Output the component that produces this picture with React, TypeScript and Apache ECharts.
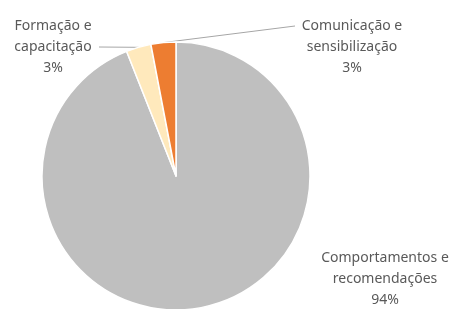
import React, { useEffect, useRef } from "react";
import * as echarts from "echarts";

const categories = ["Comportamentos e recomendações", "Formação e capacitação", "Comunicação e sensibilização"];
const values = [94, 3, 3];
const colors = ["#BFBFBF", "#FFE9BC", "#ED7D31"];

const CX = 176;
const CY = 176;
const R = 134;

export default function App() {
  const ref = useRef<HTMLDivElement>(null);
  useEffect(() => {
    const chart = echarts.init(ref.current!, undefined, { renderer: "svg" });
    const total = values.reduce((a, b) => a + b, 0);
    // edge points for leader lines, computed from data
    const edge = (i: number) => {
      const before = values.slice(0, i).reduce((a, b) => a + b, 0);
      const mid = ((before + values[i] / 2) / total) * Math.PI * 2;
      return [CX + R * Math.sin(mid), CY - R * Math.cos(mid)];
    };
    const e1 = edge(1);
    const e2 = edge(2);
    const labelPos: Record<number, [number, number]> = {
      0: [385, 277],
      1: [53, 45],
      2: [352, 45],
    };
    chart.setOption({
      animation: false,
      series: [
        {
          type: "pie",
          center: [CX, CY],
          radius: R,
          startAngle: 90,
          clockwise: true,
          itemStyle: { borderColor: "#fff", borderWidth: 1.5 },
          label: {
            show: true,
            formatter: (p: any) => `${p.name.replace(" e ", " e\n")}\n${p.percent}%`,
            color: "#595959",
            fontFamily: "Noto Sans",
            fontSize: 14,
            lineHeight: 21,
            align: "center",
            overflow: "none",
          },
          labelLine: { show: false },
          labelLayout: (params: any) => {
            const [x, y] = labelPos[params.dataIndex];
            return { x, y, align: "center", verticalAlign: "middle", width: 200 };
          },
          data: categories.map((name, i) => ({ name, value: values[i], itemStyle: { color: colors[i] } })),
        },
      ],
      graphic: [
        {
          type: "line",
          shape: { x1: 99, y1: 47, x2: e1[0], y2: e1[1] },
          style: { stroke: "#A6A6A6", lineWidth: 1 },
        },
        {
          type: "line",
          shape: { x1: e2[0], y1: e2[1], x2: 295, y2: 26 },
          style: { stroke: "#A6A6A6", lineWidth: 1 },
        },
      ],
    });
    return () => chart.dispose();
  }, []);
  return <div ref={ref} style={{ position: "fixed", left: 0, top: 0, width: 464, height: 309 }} />;
}
